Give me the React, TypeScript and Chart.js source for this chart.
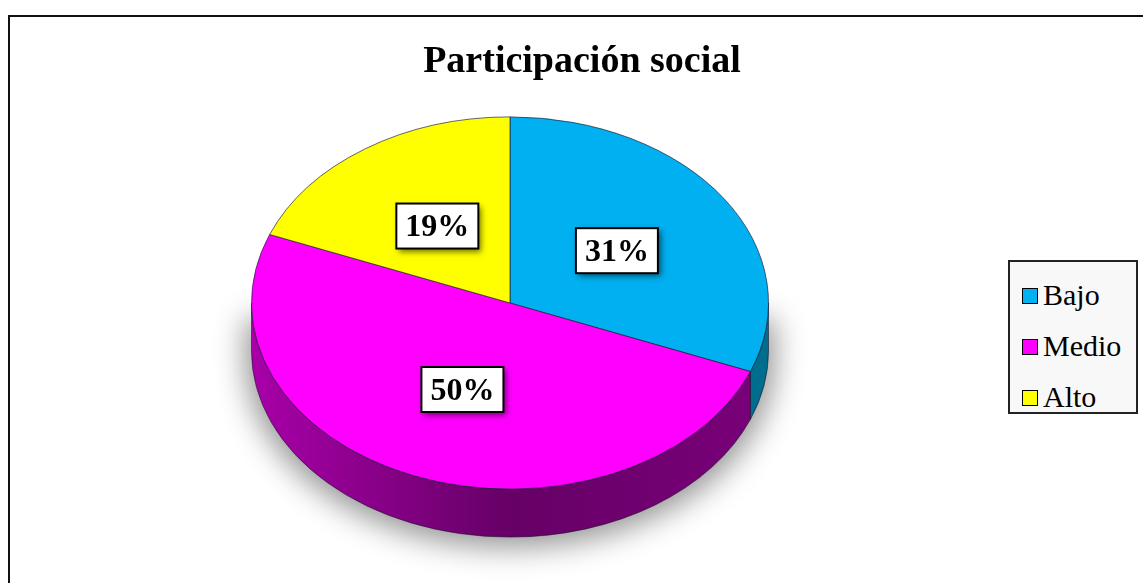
import React, { useEffect, useRef } from "react";
import { Chart, registerables } from "chart.js";

Chart.register(...registerables);

const TITLE = "Participación social";
const categories = ["Bajo", "Medio", "Alto"];
const values = [31, 50, 19];
const topColors = ["#00B0F0", "#FF00FF", "#FFFF00"];
const sideColors = ["#006C8E", "#8A008A", "#8C8C00"];

const TILT = 0.72;
const DEPTH = 48;

const pie3d = {
  id: "pie3d",
  beforeDatasetsDraw(chart: any) {
    const ctx = chart.ctx;
    const meta = chart.getDatasetMeta(0);
    const arcs = meta.data as any[];
    if (!arcs.length) return;
    const cx = arcs[0].x;
    const cy = arcs[0].y;
    const rx = arcs[0].outerRadius;
    const ry = rx * TILT;
    // soft shadow (shape drawn off-canvas, only its shadow lands here)
    const SHIFT = 3000;
    ctx.save();
    ctx.shadowColor = "rgba(0,0,0,0.42)";
    ctx.shadowBlur = 30;
    ctx.shadowOffsetX = SHIFT;
    ctx.shadowOffsetY = 6;
    ctx.beginPath();
    const sx = cx - SHIFT;
    ctx.moveTo(sx + rx + 6, cy + 10);
    ctx.ellipse(sx, cy + DEPTH, rx + 6, ry + 4, 0, 0, Math.PI);
    ctx.lineTo(sx - rx - 6, cy + 10);
    ctx.closePath();
    ctx.fillStyle = "#000";
    ctx.fill();
    ctx.restore();
    const grad = (base: string, i: number) => {
      const g = ctx.createLinearGradient(cx - rx, 0, cx + rx, 0);
      if (i === 1) {
        g.addColorStop(0, "#A800A8");
        g.addColorStop(0.5, "#660066");
        g.addColorStop(1, "#7A007A");
      } else {
        g.addColorStop(0, base);
        g.addColorStop(1, base);
      }
      return g;
    };
    arcs.forEach((arc: any, i: number) => {
      const TWO = Math.PI * 2;
      const s = arc.startAngle;
      const e = arc.endAngle;
      for (const off of [0, TWO, -TWO]) {
        const a0 = Math.max(s + off, 0);
        const a1 = Math.min(e + off, Math.PI);
        if (a1 <= a0) continue;
        ctx.save();
        ctx.beginPath();
        ctx.ellipse(cx, cy, rx, ry, 0, a0, a1);
        ctx.ellipse(cx, cy + DEPTH, rx, ry, 0, a1, a0, true);
        ctx.closePath();
        ctx.fillStyle = grad(sideColors[i], i);
        ctx.fill();
        ctx.strokeStyle = "rgba(20,20,40,0.7)";
        ctx.lineWidth = 0.8;
        ctx.stroke();
        ctx.restore();
      }
    });
    ctx.save();
    ctx.translate(cx, cy);
    ctx.scale(1, TILT);
    ctx.translate(-cx, -cy);
  },
  afterDatasetsDraw(chart: any) {
    const ctx = chart.ctx;
    ctx.restore();
    const meta = chart.getDatasetMeta(0);
    const arcs = meta.data as any[];
    const total = values.reduce((a, b) => a + b, 0);
    arcs.forEach((arc: any, i: number) => {
      const mid = (arc.startAngle + arc.endAngle) / 2;
      const r = arc.outerRadius * 0.5;
      const x = arc.x + r * Math.cos(mid);
      const y = arc.y + r * TILT * Math.sin(mid);
      const txt = Math.round((values[i] / total) * 100) + "%";
      ctx.save();
      ctx.font = "bold 32px 'Liberation Serif', 'Times New Roman', serif";
      const w = ctx.measureText(txt).width + 18;
      const h = 45;
      ctx.shadowColor = "rgba(0,0,0,0.55)";
      ctx.shadowBlur = 6;
      ctx.shadowOffsetX = 3;
      ctx.shadowOffsetY = 3;
      ctx.fillStyle = "#ffffff";
      ctx.fillRect(x - w / 2, y - h / 2, w, h);
      ctx.shadowColor = "transparent";
      ctx.lineWidth = 2;
      ctx.strokeStyle = "#000";
      ctx.strokeRect(x - w / 2, y - h / 2, w, h);
      ctx.fillStyle = "#000";
      ctx.textAlign = "center";
      ctx.textBaseline = "middle";
      ctx.fillText(txt, x, y + 2);
      ctx.restore();
    });
  },
};

export default function App() {
  const ref = useRef<HTMLCanvasElement>(null);
  useEffect(() => {
    if (!ref.current) return;
    const chart = new Chart(ref.current, {
      type: "pie",
      data: {
        labels: categories,
        datasets: [
          {
            data: values,
            backgroundColor: topColors,
            borderColor: "rgba(30,30,60,0.8)",
            borderWidth: 1,
          },
        ],
      },
      options: {
        responsive: false,
        animation: false,
        layout: { padding: { left: 251, right: 374, top: 44, bottom: 21 } },
        plugins: {
          legend: { display: false },
          tooltip: { enabled: false },
          title: { display: false },
        },
      },
      plugins: [pie3d],
    });
    return () => chart.destroy();
  }, []);

  const serif = "'Liberation Serif', 'Times New Roman', serif";
  return (
    <div
      style={{
        position: "fixed",
        left: 0,
        top: 0,
        width: 1143,
        height: 583,
        overflow: "hidden",
        background: "#fff",
      }}
    >
      <div
        style={{
          position: "absolute",
          left: 8,
          top: 15,
          width: 1200,
          height: 700,
          border: "2px solid #111",
          boxSizing: "border-box",
        }}
      />
      <canvas
        ref={ref}
        width={1143}
        height={583}
        style={{ position: "absolute", left: 0, top: 0, width: 1143, height: 583 }}
      />
      <div
        style={{
          position: "absolute",
          left: 382,
          width: 400,
          top: 36,
          textAlign: "center",
          fontFamily: serif,
          fontWeight: "bold",
          fontSize: 38,
          lineHeight: "46px",
          color: "#000",
        }}
      >
        {TITLE}
      </div>
      <div
        style={{
          position: "absolute",
          left: 1008,
          top: 260,
          width: 130,
          height: 154,
          background: "#f8f8f8",
          border: "2px solid #222",
          boxSizing: "border-box",
          paddingTop: 8,
        }}
      >
        {categories.map((c, i) => (
          <div
            key={c}
            style={{
              display: "flex",
              alignItems: "center",
              height: 51,
              paddingLeft: 12,
              fontFamily: serif,
              fontSize: 30,
              color: "#000",
            }}
          >
            <span
              style={{
                display: "inline-block",
                width: 16,
                height: 16,
                background: topColors[i],
                border: "1.5px solid #000",
                boxSizing: "border-box",
                marginRight: 5,
              }}
            />
            <span style={{ lineHeight: "34px", marginTop: -2 }}>{c}</span>
          </div>
        ))}
      </div>
    </div>
  );
}
